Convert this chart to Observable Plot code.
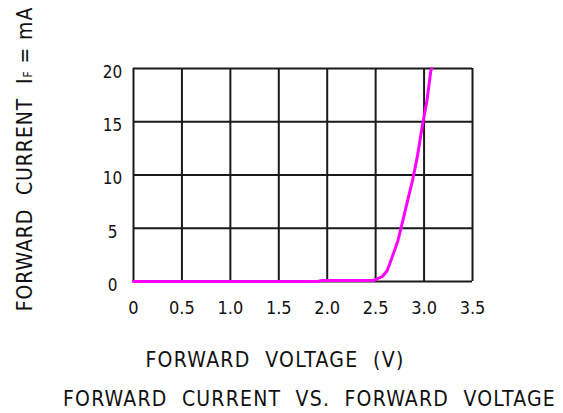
<!DOCTYPE html>
<html>
<head>
<meta charset="utf-8">
<script src="https://cdn.jsdelivr.net/npm/d3@7"></script>
<script src="https://cdn.jsdelivr.net/npm/@observablehq/plot@0.6"></script>
<style>
  html, body { margin: 0; padding: 0; background: #fff; }
  #wrap { position: relative; width: 563px; height: 413px; overflow: hidden; }
  svg text { white-space: pre; }
  #title {
    position: absolute; left: 63px; top: 384px;
    font-family: "DejaVu Sans Condensed", "DejaVu Sans", sans-serif;
    font-size: 21px; line-height: 30px; color: #111; letter-spacing: 1.2px;
    white-space: pre;
  }
</style>
</head>
<body>
<div id="wrap"><div id="chart"></div><div id="title">FORWARD  CURRENT  VS.  FORWARD  VOLTAGE</div></div>
<script>
// Data
const voltage = [0, 1.9, 1.95, 2.45, 2.48, 2.57, 2.62, 2.67, 2.73, 2.78, 2.83, 2.88, 2.93, 2.98, 3.03, 3.07, 3.08];
const current = [0, 0, 0.1, 0.1, 0.1, 0.47, 1.03, 2.27, 3.83, 5.7, 7.6, 9.46, 11.7, 14.5, 17.0, 19.8, 20];
const xTicks = [0, 0.5, 1.0, 1.5, 2.0, 2.5, 3.0, 3.5];
const xTickLabels = ["0", "0.5", "1.0", "1.5", "2.0", "2.5", "3.0", "3.5"];
const yTicks = [0, 5, 10, 15, 20];
const xLabel = "FORWARD  VOLTAGE  (V)";
const yLabel = "FORWARD  CURRENT  IF = mA";

const curve = voltage.map((v, i) => ({v, i: current[i]}));
const font = "'DejaVu Sans Condensed', 'DejaVu Sans', sans-serif";

const plot = Plot.plot({
  width: 563,
  height: 384,
  marginLeft: 133,
  marginRight: 91,
  marginTop: 68,
  marginBottom: 103,
  style: {fontFamily: font, color: "#111", background: "#fff"},
  x: {domain: [0, 3.5]},
  y: {domain: [0, 20]},
  marks: [
    Plot.ruleX(xTicks, {stroke: "#1a1a1a", strokeWidth: 2}),
    Plot.ruleY(yTicks, {stroke: "#1a1a1a", strokeWidth: 2}),
    Plot.axisX(xTicks, {tickSize: 0, tickPadding: 20, fontSize: 18, label: null,
      tickFormat: (d) => xTickLabels[xTicks.indexOf(d)]}),
    Plot.axisY(yTicks, {tickSize: 0, tickPadding: 21, textAnchor: "middle", fontSize: 17, dy: 4, label: null}),
    Plot.line(curve, {x: "v", y: "i", stroke: "#ff00ff", strokeWidth: 3}),
    Plot.text([xLabel], {frameAnchor: "bottom", textAnchor: "middle", dx: -28, dy: 85, fontSize: 21, fill: "#111"}),
    Plot.text([yLabel], {frameAnchor: "left", textAnchor: "middle", rotate: -90, dx: -108, dy: -16, fontSize: 21, fill: "#111"})
  ]
});
document.getElementById("chart").appendChild(plot);

// subscript-size F in "IF", and letter spacing of the axis titles
d3.select(plot).selectAll("text").each(function() {
  const t = d3.select(this);
  if (t.text() === yLabel) {
    t.text(null);
    t.attr("letter-spacing", "0.9px");
    t.append("tspan").text("FORWARD  CURRENT  I");
    t.append("tspan").attr("font-size", "12px").text("F");
    t.append("tspan").text(" = mA");
  } else if (t.text() === xLabel) {
    t.attr("letter-spacing", "1.3px");
  }
});
</script>
</body>
</html>
